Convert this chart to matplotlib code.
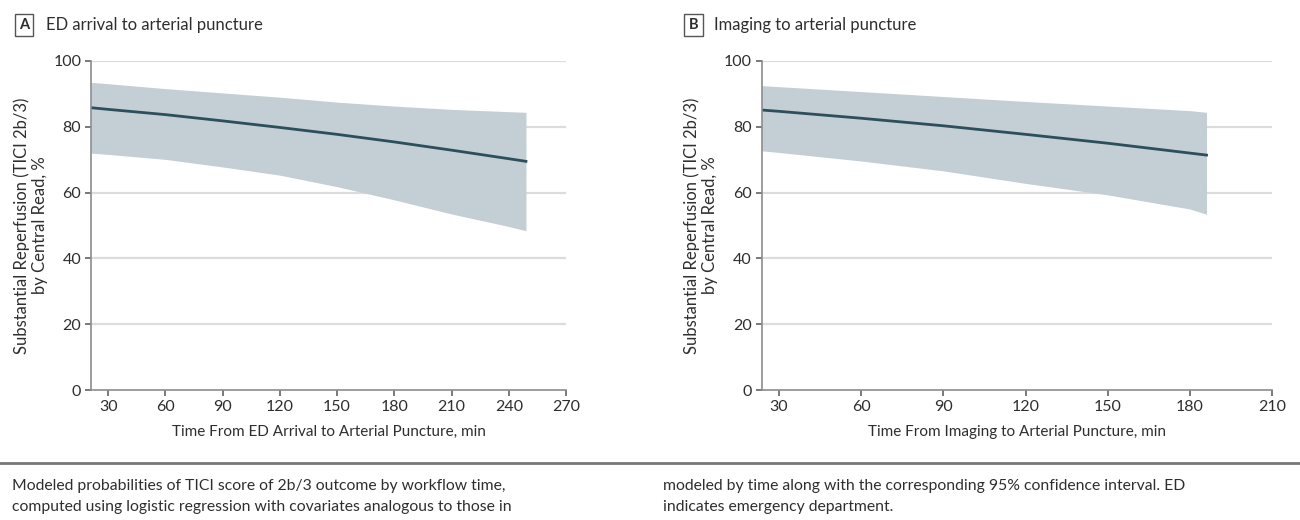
import matplotlib
matplotlib.use("Agg")
import matplotlib.pyplot as plt
from matplotlib.lines import Line2D

plt.rcParams['font.family'] = ['Lato', 'DejaVu Sans']

# panel A: ED arrival to arterial puncture
time_a = [21, 30, 60, 90, 120, 150, 180, 210, 240, 249]
mean_a = [85.8, 85.3, 83.7, 81.8, 79.8, 77.7, 75.4, 72.9, 70.3, 69.5]
upper_a = [93.5, 93.1, 91.6, 90.3, 89.0, 87.5, 86.3, 85.3, 84.6, 84.4]
lower_a = [72.0, 71.6, 70.1, 67.8, 65.3, 61.8, 57.8, 53.5, 49.7, 48.4]
xticks_a = [30, 60, 90, 120, 150, 180, 210, 240, 270]

# panel B: imaging to arterial puncture
time_b = [23.6, 30, 60, 90, 120, 150, 180, 186]
mean_b = [85.1, 84.7, 82.6, 80.3, 77.7, 75.0, 72.0, 71.4]
upper_b = [92.5, 92.2, 90.7, 89.2, 87.7, 86.3, 84.9, 84.4]
lower_b = [72.7, 72.2, 69.6, 66.6, 62.8, 59.3, 55.0, 53.4]
xticks_b = [30, 60, 90, 120, 150, 180, 210]

yticks = [0, 20, 40, 60, 80, 100]

band_color = '#c4ced5'
line_color = '#2c4f5c'
text_color = '#2e2e2e'
axis_color = '#8c8c8c'
grid_color = '#dcdcdc'

fig = plt.figure(figsize=(13, 5.2), dpi=100)
ax_a = fig.add_axes([0.070, 0.25, 0.3654, 0.6327])
ax_b = fig.add_axes([0.5858, 0.25, 0.3929, 0.6327])


def draw_panel(ax, t, m, lo, hi, xticks, xlim, xlabel):
    for y in yticks[1:]:
        ax.axhline(y, color=grid_color, lw=1.6, zorder=0)
    ax.fill_between(t, lo, hi, color=band_color, lw=0, zorder=1)
    ax.plot(t, m, color=line_color, lw=2.0, zorder=2)
    ax.set_xlim(*xlim)
    ax.set_ylim(0, 100)
    ax.set_xticks(xticks)
    ax.set_yticks(yticks)
    for side in ('top', 'right'):
        ax.spines[side].set_visible(False)
    for side in ('left', 'bottom'):
        ax.spines[side].set_color(axis_color)
        ax.spines[side].set_linewidth(1.2)
    ax.tick_params(axis='both', direction='out', length=4, width=1.1,
                   color='#555555', labelsize=11.5, labelcolor=text_color, pad=3)
    ax.set_xlabel(xlabel, fontsize=11, color=text_color, labelpad=8)
    ax.set_ylabel('Substantial Reperfusion (TICI 2b/3)\nby Central Read, %',
                  fontsize=12, color=text_color, labelpad=4, linespacing=1.15)


draw_panel(ax_a, time_a, mean_a, lower_a, upper_a, xticks_a, (21, 270),
           'Time From ED Arrival to Arterial Puncture, min')
draw_panel(ax_b, time_b, mean_b, lower_b, upper_b, xticks_b, (23.6, 210),
           'Time From Imaging to Arterial Puncture, min')

box = dict(boxstyle='square,pad=0.3', facecolor='white', edgecolor='#555555', lw=1)
fig.text(0.0185, 0.952, 'A', fontsize=10.5, fontweight='bold', color=text_color,
         va='center', ha='center', bbox=box)
fig.text(0.035, 0.952, 'ED arrival to arterial puncture', fontsize=12,
         color=text_color, va='center')
fig.text(0.5335, 0.952, 'B', fontsize=10.5, fontweight='bold', color=text_color,
         va='center', ha='center', bbox=box)
fig.text(0.5495, 0.952, 'Imaging to arterial puncture', fontsize=12,
         color=text_color, va='center')

# separator rule above the caption
fig.add_artist(Line2D([0, 1], [0.11, 0.11], color='#777777', lw=2))

caption_left = ['Modeled probabilities of TICI score of 2b/3 outcome by workflow time,',
                'computed using logistic regression with covariates analogous to those in']
caption_right = ['modeled by time along with the corresponding 95% confidence interval. ED',
                 'indicates emergency department.']
for i, (left, right) in enumerate(zip(caption_left, caption_right)):
    y = 0.066 - i * 0.041
    fig.text(0.009, y, left, fontsize=11.3, color=text_color, va='center')
    fig.text(0.51, y, right, fontsize=11.3, color=text_color, va='center')

fig.savefig('out.png', dpi=100, facecolor='white')
